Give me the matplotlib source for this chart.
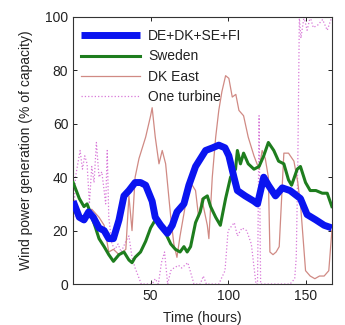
import matplotlib
matplotlib.use("Agg")
import matplotlib.pyplot as plt

plt.rcParams['font.family'] = ['Liberation Sans', 'DejaVu Sans']

# Aggregate DE+DK+SE+FI
t_all = [0, 4, 7, 10, 13, 16.7, 20, 23, 26, 29.6, 32.8, 36, 40, 43.5, 46.8, 51, 53, 56.5,
         60.8, 64, 67, 71.5, 74.7, 79, 85.5, 90, 94, 98, 100.5, 103.8, 106, 111, 116.7,
         119, 123, 126, 130.6, 135, 140, 146.7, 151, 156.7, 162, 167]
v_all = [31, 25, 24, 27, 25, 21, 20, 17, 17, 24, 33, 35, 38, 38, 37, 31, 25, 22,
         19, 22, 27, 30, 37, 44, 50, 51, 52, 51, 48, 40, 35, 33, 31,
         30, 40, 37, 33, 36, 35, 32, 26, 24, 22, 21]

# Sweden
t_se = [0, 4, 7, 9, 11, 14.5, 16.7, 20, 23, 26, 29.6, 32.8, 36, 38, 40, 43.5, 46.8, 50,
        53, 56.5, 59.7, 63, 66, 69, 71.5, 73.6, 75.8, 79, 82, 84, 86.6, 88.7, 92, 95,
        98.4, 101.6, 104.8, 106, 108, 110, 113, 116.7, 120, 123, 126, 129.5, 132.6, 136,
        139, 141, 144.6, 146.7, 150, 153, 156.7, 160.8, 164, 167]
v_se = [38, 32, 29, 30, 27, 21, 17, 14, 11, 8.5, 11, 12, 9, 8, 10, 12, 16, 21,
        24, 22, 19, 15, 13, 12, 14, 12, 14, 23, 27, 32, 33, 29, 25, 22,
        32, 40, 43, 50, 45, 49, 45, 43, 44, 48, 53, 50, 46, 45,
        39, 37, 43, 44, 38, 35, 35, 34, 34, 29]

# DK East
t_dk = [0, 4, 8, 12, 16.7, 20, 23, 26, 29.6, 32, 34, 36, 38, 40, 42.5, 46.8, 50, 51, 53,
        55.4, 57.5, 59.7, 63, 65, 67, 69, 72.6, 75.8, 79, 81, 83, 86.6, 87.6, 89.8, 92,
        94, 96, 98.4, 100.5, 102.7, 105, 107, 110, 113, 116.7, 120, 122, 124, 126, 127,
        129, 131, 133, 136, 139, 142.5, 145, 147, 150, 153, 156, 159, 162, 165, 167]
v_dk = [28, 26, 25, 28, 25, 22, 12, 13, 11, 12, 13, 33, 20, 40, 47, 55, 63, 66, 55,
        45, 50, 45, 25, 15, 10, 18, 30, 38, 35, 25, 32, 22, 17, 40, 55,
        65, 72, 78, 77, 70, 71, 65, 63, 55, 48, 43, 50, 47, 40, 12,
        11, 12, 14, 49, 49, 46, 38, 28, 5, 3, 2, 3, 3, 5, 20]

# One turbine
t_tb = [0, 1.5, 3, 4.5, 6, 7.5, 9, 10.5, 12, 13.5, 15, 16.7, 18.5, 20, 21, 22, 23, 25,
        27, 29, 31, 34, 36, 38, 40, 42, 44, 47, 51, 53, 55, 57, 59, 61, 63, 65, 68, 70,
        74, 78, 82, 84, 86, 90, 94, 98, 100, 104, 106, 109, 112, 115, 118, 119, 120,
        121, 121.5, 122, 124, 128, 134, 140, 143, 144, 145, 146, 147, 149, 151, 153,
        155, 158, 161, 164, 167]
v_tb = [20, 40, 45, 50, 43, 48, 45, 30, 44, 38, 53, 40, 42, 35, 30, 50, 25, 15,
        13, 15, 12, 16, 18, 10, 6, 3, 0, 0, 0, 2, 0, 8, 12, 0, 5, 6, 7, 6,
        8, 0, 0, 3, 0, 0, 0, 5, 20, 23, 18, 21, 20, 15, 0, 0, 63,
        0, 0, 0, 0, 0, 0, 0, 2, 10, 45, 100, 92, 100, 95, 100,
        96, 97, 99, 95, 100]

ticks_x = [50, 100, 150]
ticks_y = [0, 20, 40, 60, 80, 100]

fig = plt.figure(figsize=(3.45, 3.25), dpi=100)
ax = fig.add_axes([0.212, 0.126, 0.75, 0.822])

ax.plot(t_tb, v_tb, color='#d878d8', lw=0.9, ls=':', label='One turbine', zorder=1)
ax.plot(t_dk, v_dk, color='#d08a84', lw=0.9, label='DK East', zorder=2)
ax.plot(t_se, v_se, color='#1e7d1e', lw=2.2, label='Sweden', zorder=3)
ax.plot(t_all, v_all, color='#0a14f0', lw=5, label='DE+DK+SE+FI', zorder=4,
        solid_capstyle='butt')

ax.set_xlim(0, 167)
ax.set_ylim(0, 100)
ax.set_xticks(ticks_x)
ax.set_yticks(ticks_y)
ax.tick_params(direction='in', top=True, right=True, labelsize=10, length=3, width=0.6,
               labelcolor='#222222')
for s in ax.spines.values():
    s.set_linewidth(0.8)
    s.set_color('#333333')

ax.set_xlabel('Time (hours)', fontsize=10, labelpad=6, color='#222222')
ax.set_ylabel('Wind power generation (% of capacity)', fontsize=10, labelpad=9,
              color='#222222')

h, l = ax.get_legend_handles_labels()
leg = ax.legend(h[::-1], l[::-1], loc='upper left', frameon=False, fontsize=10,
                handlelength=4.2, handletextpad=0.6, labelspacing=0.45,
                borderaxespad=0.2, bbox_to_anchor=(0.0, 0.985))
for txt in leg.get_texts():
    txt.set_color('#222222')

fig.savefig('out.png', dpi=100)
